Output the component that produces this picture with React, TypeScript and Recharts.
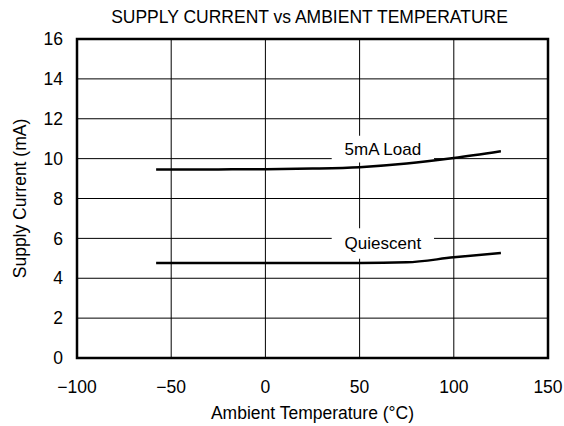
import React from "react";
import {
  LineChart,
  Line,
  XAxis,
  YAxis,
  CartesianGrid,
  ReferenceArea,
  Label,
} from "recharts";

const temperatures = [-58, -25, 0, 25, 50, 75, 100, 125];
const loadCurrent = [9.45, 9.46, 9.47, 9.5, 9.57, 9.75, 10.03, 10.37];
const quiescentCurrent = [4.77, 4.77, 4.77, 4.77, 4.77, 4.8, 5.05, 5.27];
const xTicks = [-100, -50, 0, 50, 100, 150];
const yTicks = [0, 2, 4, 6, 8, 10, 12, 14, 16];

const data = temperatures.map((t, i) => ({
  t,
  load: loadCurrent[i],
  quiescent: quiescentCurrent[i],
}));

const FONT = "'Liberation Sans', Arial, Helvetica, sans-serif";
const FS = 17.5;

const fmtX = (v: number) => (v < 0 ? "\u2212" + Math.abs(v) : String(v));

export default function App() {
  return (
    <div style={{ position: "fixed", left: 0, top: 0, width: 564, height: 426, background: "#fff", fontFamily: FONT }}>
      <div
        style={{
          position: "absolute",
          left: 74,
          width: 471,
          top: 7,
          textAlign: "center",
          fontSize: FS,
          color: "#000",
          fontFamily: FONT,
          lineHeight: "20px",
          whiteSpace: "nowrap",
        }}
      >
        SUPPLY CURRENT vs AMBIENT TEMPERATURE
      </div>
      <LineChart
        width={564}
        height={426}
        data={data}
        margin={{ top: 39, right: 16, bottom: 0, left: 0 }}
        style={{ fontFamily: FONT }}
      >
        <CartesianGrid stroke="#000" strokeWidth={1} />
        <XAxis
          dataKey="t"
          type="number"
          domain={[-100, 150]}
          ticks={xTicks}
          tickFormatter={fmtX}
          tickLine={false}
          axisLine={false}
          height={68}
          tick={{ fill: "#000", fontSize: FS, fontFamily: FONT }}
          tickMargin={17}
          interval={0}
        >
          <Label
            value="Ambient Temperature (°C)"
            position="insideBottom"
            offset={7.5}
            style={{ fill: "#000", fontSize: FS, fontFamily: FONT }}
          />
        </XAxis>
        <YAxis
          type="number"
          domain={[0, 16]}
          ticks={yTicks}
          tickLine={false}
          axisLine={false}
          width={77}
          tick={{ fill: "#000", fontSize: FS, fontFamily: FONT }}
          tickMargin={8}
          interval={0}
        >
          <Label
            content={(props: any) => {
              const vb = props.viewBox || { x: 0, y: 39, width: 77, height: 319 };
              const cx = vb.x + 20;
              const cy = vb.y + vb.height / 2;
              return (
                <text
                  x={cx}
                  y={cy}
                  transform={`rotate(-90 ${cx} ${cy})`}
                  textAnchor="middle"
                  dominantBaseline="central"
                  fill="#000"
                  fontSize={FS}
                  fontFamily={FONT}
                >
                  Supply Current (mA)
                </text>
              );
            }}
          />
        </YAxis>
        <ReferenceArea
          x1={35.2}
          x2={89.5}
          y1={9.8}
          y2={11.15}
          fill="#fff"
          fillOpacity={1}
          stroke="none"
          label={{ value: "5mA Load", position: "center", fill: "#000", fontSize: 17, fontFamily: FONT }}
        />
        <ReferenceArea
          x1={35.2}
          x2={89.5}
          y1={4.98}
          y2={6.51}
          fill="#fff"
          fillOpacity={1}
          stroke="none"
          label={{ value: "Quiescent", position: "center", fill: "#000", fontSize: 17, fontFamily: FONT }}
        />
        <Line
          dataKey="load"
          type="monotone"
          stroke="#000"
          strokeWidth={2.5}
          dot={false}
          isAnimationActive={false}
        />
        <Line
          dataKey="quiescent"
          type="monotone"
          stroke="#000"
          strokeWidth={2.5}
          dot={false}
          isAnimationActive={false}
        />
        <ReferenceArea
          x1={-100}
          x2={150}
          y1={0}
          y2={16}
          fill="none"
          stroke="#000"
          strokeWidth={2.5}
          ifOverflow="visible"
        />
      </LineChart>
    </div>
  );
}
